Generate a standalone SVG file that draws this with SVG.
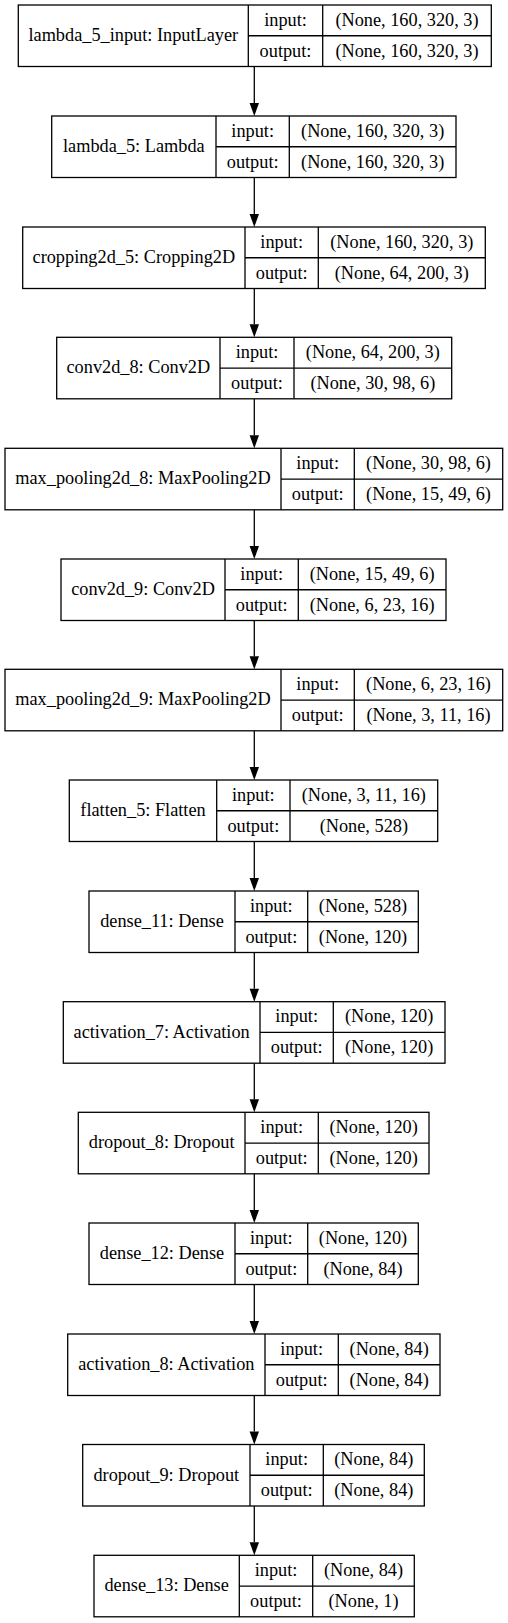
<svg xmlns="http://www.w3.org/2000/svg" width="508" height="1623" viewBox="0 0 508 1623">
<defs>
<style>
.b{fill:#fff;stroke:#000;stroke-width:1.3}
.d{stroke:#000;stroke-width:1.3;fill:none}
text{font-family:"Liberation Serif","Times New Roman",serif;font-size:18.3px;text-anchor:middle;fill:#000}
.e{stroke:#000;stroke-width:1.3;fill:none;marker-end:url(#ah)}
</style>
<marker id="ah" markerUnits="userSpaceOnUse" markerWidth="14" markerHeight="10" refX="0" refY="4.7" orient="auto" overflow="visible">
<path d="M0,0 L13,4.7 L0,9.4 z" fill="#000"/>
</marker>
</defs>
<rect width="508" height="1623" fill="#fff"/>
<g id="connectors">
<line class="e" x1="254.3" y1="66.5" x2="254.3" y2="103"/>
<line class="e" x1="254.3" y1="177.5" x2="254.3" y2="214"/>
<line class="e" x1="254.3" y1="288.5" x2="254.3" y2="324.3"/>
<line class="e" x1="254.3" y1="398.8" x2="254.3" y2="435.3"/>
<line class="e" x1="254.3" y1="509.8" x2="254.3" y2="546"/>
<line class="e" x1="254.3" y1="620.5" x2="254.3" y2="656.3"/>
<line class="e" x1="254.3" y1="730.8" x2="254.3" y2="767"/>
<line class="e" x1="254.3" y1="841.5" x2="254.3" y2="878"/>
<line class="e" x1="254.3" y1="952.5" x2="254.3" y2="988.7"/>
<line class="e" x1="254.3" y1="1063.2" x2="254.3" y2="1099.3"/>
<line class="e" x1="254.3" y1="1173.8" x2="254.3" y2="1210"/>
<line class="e" x1="254.3" y1="1284.5" x2="254.3" y2="1321"/>
<line class="e" x1="254.3" y1="1395.5" x2="254.3" y2="1431.5"/>
<line class="e" x1="254.3" y1="1506" x2="254.3" y2="1542.3"/>
</g>
<g id="n1">
<rect class="b" x="18.3" y="5" width="473" height="61.5"/>
<path class="d" d="M248.3,5 V66.5 M322.7,5 V66.5 M248.3,35.75 H491.3"/>
<text x="133.3" y="41">lambda_5_input: InputLayer</text>
<text x="285.5" y="25.7">input:</text><text x="285.5" y="56.5">output:</text>
<text x="407" y="25.7">(None, 160, 320, 3)</text><text x="407" y="56.5">(None, 160, 320, 3)</text>
</g>
<g id="n2">
<rect class="b" x="51.7" y="116" width="404.3" height="61.5"/>
<path class="d" d="M216,116 V177.5 M289.3,116 V177.5 M216,146.75 H456"/>
<text x="133.85" y="152">lambda_5: Lambda</text>
<text x="252.65" y="136.7">input:</text><text x="252.65" y="167.5">output:</text>
<text x="372.65" y="136.7">(None, 160, 320, 3)</text><text x="372.65" y="167.5">(None, 160, 320, 3)</text>
</g>
<g id="n3">
<rect class="b" x="22.7" y="227" width="462.6" height="61.5"/>
<path class="d" d="M245,227 V288.5 M318.3,227 V288.5 M245,257.75 H485.3"/>
<text x="133.85" y="263">cropping2d_5: Cropping2D</text>
<text x="281.65" y="247.7">input:</text><text x="281.65" y="278.5">output:</text>
<text x="401.8" y="247.7">(None, 160, 320, 3)</text><text x="401.8" y="278.5">(None, 64, 200, 3)</text>
</g>
<g id="n4">
<rect class="b" x="56.7" y="337.3" width="395" height="61.5"/>
<path class="d" d="M220,337.3 V398.8 M294,337.3 V398.8 M220,368.05 H451.7"/>
<text x="138.35" y="373.3">conv2d_8: Conv2D</text>
<text x="257" y="358">input:</text><text x="257" y="388.8">output:</text>
<text x="372.85" y="358">(None, 64, 200, 3)</text><text x="372.85" y="388.8">(None, 30, 98, 6)</text>
</g>
<g id="n5">
<rect class="b" x="5" y="448.3" width="497.7" height="61.5"/>
<path class="d" d="M281,448.3 V509.8 M354.3,448.3 V509.8 M281,479.05 H502.7"/>
<text x="143" y="484.3">max_pooling2d_8: MaxPooling2D</text>
<text x="317.65" y="469">input:</text><text x="317.65" y="499.8">output:</text>
<text x="428.5" y="469">(None, 30, 98, 6)</text><text x="428.5" y="499.8">(None, 15, 49, 6)</text>
</g>
<g id="n6">
<rect class="b" x="61" y="559" width="385" height="61.5"/>
<path class="d" d="M225,559 V620.5 M298.3,559 V620.5 M225,589.75 H446"/>
<text x="143" y="595">conv2d_9: Conv2D</text>
<text x="261.65" y="579.7">input:</text><text x="261.65" y="610.5">output:</text>
<text x="372.15" y="579.7">(None, 15, 49, 6)</text><text x="372.15" y="610.5">(None, 6, 23, 16)</text>
</g>
<g id="n7">
<rect class="b" x="5" y="669.3" width="497.7" height="61.5"/>
<path class="d" d="M281,669.3 V730.8 M354.3,669.3 V730.8 M281,700.05 H502.7"/>
<text x="143" y="705.3">max_pooling2d_9: MaxPooling2D</text>
<text x="317.65" y="690">input:</text><text x="317.65" y="720.8">output:</text>
<text x="428.5" y="690">(None, 6, 23, 16)</text><text x="428.5" y="720.8">(None, 3, 11, 16)</text>
</g>
<g id="n8">
<rect class="b" x="69.3" y="780" width="368.4" height="61.5"/>
<path class="d" d="M216.7,780 V841.5 M290,780 V841.5 M216.7,810.75 H437.7"/>
<text x="143" y="816">flatten_5: Flatten</text>
<text x="253.35" y="800.7">input:</text><text x="253.35" y="831.5">output:</text>
<text x="363.85" y="800.7">(None, 3, 11, 16)</text><text x="363.85" y="831.5">(None, 528)</text>
</g>
<g id="n9">
<rect class="b" x="89" y="891" width="329.3" height="61.5"/>
<path class="d" d="M235,891 V952.5 M307.7,891 V952.5 M235,921.75 H418.3"/>
<text x="162" y="927">dense_11: Dense</text>
<text x="271.35" y="911.7">input:</text><text x="271.35" y="942.5">output:</text>
<text x="363" y="911.7">(None, 528)</text><text x="363" y="942.5">(None, 120)</text>
</g>
<g id="n10">
<rect class="b" x="63.3" y="1001.7" width="381.7" height="61.5"/>
<path class="d" d="M260,1001.7 V1063.2 M333.3,1001.7 V1063.2 M260,1032.45 H445"/>
<text x="161.65" y="1037.7">activation_7: Activation</text>
<text x="296.65" y="1022.4">input:</text><text x="296.65" y="1053.2">output:</text>
<text x="389.15" y="1022.4">(None, 120)</text><text x="389.15" y="1053.2">(None, 120)</text>
</g>
<g id="n11">
<rect class="b" x="78.3" y="1112.3" width="350.7" height="61.5"/>
<path class="d" d="M245,1112.3 V1173.8 M318.3,1112.3 V1173.8 M245,1143.05 H429"/>
<text x="161.65" y="1148.3">dropout_8: Dropout</text>
<text x="281.65" y="1133">input:</text><text x="281.65" y="1163.8">output:</text>
<text x="373.65" y="1133">(None, 120)</text><text x="373.65" y="1163.8">(None, 120)</text>
</g>
<g id="n12">
<rect class="b" x="89" y="1223" width="329.3" height="61.5"/>
<path class="d" d="M235,1223 V1284.5 M307.7,1223 V1284.5 M235,1253.75 H418.3"/>
<text x="162" y="1259">dense_12: Dense</text>
<text x="271.35" y="1243.7">input:</text><text x="271.35" y="1274.5">output:</text>
<text x="363" y="1243.7">(None, 120)</text><text x="363" y="1274.5">(None, 84)</text>
</g>
<g id="n13">
<rect class="b" x="67.7" y="1334" width="372.3" height="61.5"/>
<path class="d" d="M265,1334 V1395.5 M338.3,1334 V1395.5 M265,1364.75 H440"/>
<text x="166.35" y="1370">activation_8: Activation</text>
<text x="301.65" y="1354.7">input:</text><text x="301.65" y="1385.5">output:</text>
<text x="389.15" y="1354.7">(None, 84)</text><text x="389.15" y="1385.5">(None, 84)</text>
</g>
<g id="n14">
<rect class="b" x="82.7" y="1444.5" width="341.6" height="61.5"/>
<path class="d" d="M250,1444.5 V1506 M323.3,1444.5 V1506 M250,1475.25 H424.3"/>
<text x="166.35" y="1480.5">dropout_9: Dropout</text>
<text x="286.65" y="1465.2">input:</text><text x="286.65" y="1496">output:</text>
<text x="373.8" y="1465.2">(None, 84)</text><text x="373.8" y="1496">(None, 84)</text>
</g>
<g id="n15">
<rect class="b" x="94" y="1555.3" width="320.3" height="61.5"/>
<path class="d" d="M239.3,1555.3 V1616.8 M312.7,1555.3 V1616.8 M239.3,1586.05 H414.3"/>
<text x="166.65" y="1591.3">dense_13: Dense</text>
<text x="276" y="1576">input:</text><text x="276" y="1606.8">output:</text>
<text x="363.5" y="1576">(None, 84)</text><text x="363.5" y="1606.8">(None, 1)</text>
</g>
</svg>
